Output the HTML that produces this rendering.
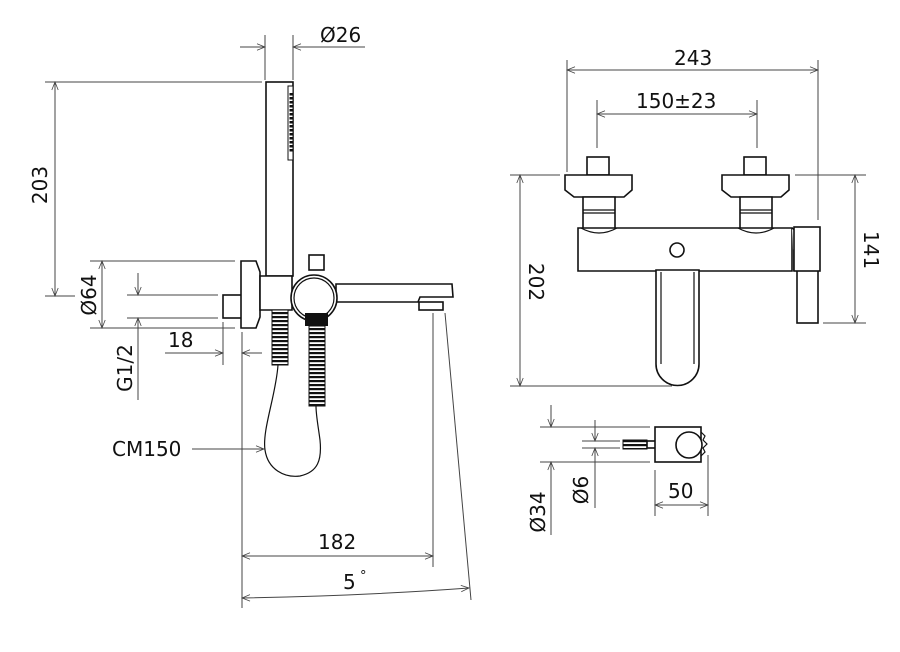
<!DOCTYPE html>
<html><head><meta charset="utf-8"><style>
html,body{margin:0;padding:0;background:#fff}
svg{display:block}
text{font-family:"DejaVu Sans","Liberation Sans",sans-serif;font-size:20px;fill:#111}
.d{stroke:#444;stroke-width:1;fill:none}
.o{stroke:#111;stroke-width:1.6;fill:#fff}
.l{stroke:#111;stroke-width:1.2;fill:none}
</style></head><body>
<svg width="900" height="652" viewBox="0 0 900 652" xmlns="http://www.w3.org/2000/svg">
<defs>
<marker id="a" viewBox="0 0 10 10" refX="10" refY="5" markerWidth="10" markerHeight="8" orient="auto-start-reverse" markerUnits="userSpaceOnUse"><path d="M0,1 L10,5 L0,9" fill="none" stroke="#444" stroke-width="1"/></marker>
<pattern id="h" width="4" height="4" patternUnits="userSpaceOnUse"><rect width="4" height="4" fill="#fff"/><rect width="4" height="2.2" fill="#111"/></pattern>
</defs>

<!-- LEFT VIEW dimensions -->
<line class="d" x1="265" y1="35" x2="265" y2="80"/><line class="d" x1="293" y1="35" x2="293" y2="80"/>
<line class="d" x1="240" y1="47" x2="265" y2="47" marker-end="url(#a)"/><line class="d" x1="318" y1="47" x2="293" y2="47" marker-end="url(#a)"/>
<line class="d" x1="293" y1="47" x2="365" y2="47"/>
<text x="320" y="42">Ø26</text>

<line class="d" x1="45" y1="82" x2="262" y2="82"/>
<line class="d" x1="45" y1="296" x2="75" y2="296"/>
<line class="d" x1="55" y1="82" x2="55" y2="296" marker-start="url(#a)" marker-end="url(#a)"/>
<text transform="translate(47,185) rotate(-90)" text-anchor="middle">203</text>

<line class="d" x1="90" y1="261" x2="235" y2="261"/><line class="d" x1="90" y1="328" x2="235" y2="328"/>
<line class="d" x1="102" y1="261" x2="102" y2="328" marker-start="url(#a)" marker-end="url(#a)"/>
<text transform="translate(96,295) rotate(-90)" text-anchor="middle">Ø64</text>

<line class="d" x1="127" y1="295" x2="218" y2="295"/><line class="d" x1="127" y1="318" x2="218" y2="318"/>
<line class="d" x1="138" y1="273" x2="138" y2="295" marker-end="url(#a)"/>
<line class="d" x1="138" y1="400" x2="138" y2="318" marker-end="url(#a)"/>
<text transform="translate(132,368) rotate(-90)" text-anchor="middle">G1/2</text>

<line class="d" x1="223" y1="322" x2="223" y2="365"/>
<line class="d" x1="165" y1="353" x2="223" y2="353" marker-end="url(#a)"/>
<line class="d" x1="262" y1="353" x2="242" y2="353" marker-end="url(#a)"/>
<text x="168" y="347">18</text>

<line class="d" x1="242" y1="332" x2="242" y2="608"/>
<line class="d" x1="433" y1="313" x2="433" y2="567"/>
<line class="d" x1="242" y1="556" x2="433" y2="556" marker-start="url(#a)" marker-end="url(#a)"/>
<text x="318" y="549">182</text>
<line class="d" x1="445" y1="313" x2="471" y2="600"/>
<path class="d" d="M242,598 Q360,596 469,588" marker-start="url(#a)" marker-end="url(#a)"/>
<text x="343" y="589">5</text><text x="360" y="580" style="font-size:13px">°</text>

<text x="112" y="456">CM150</text>
<line class="d" x1="192" y1="449" x2="264" y2="449" marker-end="url(#a)"/>

<!-- LEFT VIEW product -->
<rect class="o" x="266" y="82" width="27" height="194"/>
<rect x="288" y="86" width="5" height="74" fill="#fff" stroke="#111" stroke-width="1"/>
<line x1="291" y1="93" x2="291" y2="152" stroke="#111" stroke-width="3" stroke-dasharray="2.5,1.5"/>
<rect class="o" x="223" y="295" width="19" height="23"/>
<path class="o" d="M241,261 H256 L260,272 V317 L256,328 H241 Z"/>
<path class="o" d="M260,276 H292 V310 H260 Z"/>
<rect x="272" y="310" width="16" height="55" fill="url(#h)" stroke="#111" stroke-width="1"/>
<rect class="o" x="309" y="255" width="15" height="15"/>
<path class="o" d="M336,284 H452 L453,297 H420 L418,302 H336 Z"/>
<rect class="o" x="419" y="302" width="24" height="8"/>
<circle class="o" cx="314" cy="298" r="23"/>
<circle class="l" cx="314" cy="298" r="20"/>
<rect x="305" y="313" width="23" height="13" fill="#111"/>
<rect x="309" y="326" width="16" height="80" fill="url(#h)" stroke="#111" stroke-width="1"/>
<path class="l" d="M278,365 C276,395 262,430 265,450 C268,470 285,478 300,476 C318,472 322,460 320,440 C318,425 316,415 316,406"/>

<!-- RIGHT VIEW dimensions -->
<line class="d" x1="567" y1="60" x2="567" y2="172"/><line class="d" x1="818" y1="60" x2="818" y2="220"/>
<line class="d" x1="567" y1="70" x2="818" y2="70" marker-start="url(#a)" marker-end="url(#a)"/>
<text x="674" y="65">243</text>
<line class="d" x1="597" y1="100" x2="597" y2="148"/><line class="d" x1="757" y1="100" x2="757" y2="148"/>
<line class="d" x1="597" y1="114" x2="757" y2="114" marker-start="url(#a)" marker-end="url(#a)"/>
<text x="636" y="108">150±23</text>

<line class="d" x1="510" y1="175" x2="560" y2="175"/><line class="d" x1="510" y1="386" x2="672" y2="386"/>
<line class="d" x1="520" y1="175" x2="520" y2="386" marker-start="url(#a)" marker-end="url(#a)"/>
<text transform="translate(529,282) rotate(90)" text-anchor="middle">202</text>
<line class="d" x1="795" y1="175" x2="866" y2="175"/><line class="d" x1="823" y1="323" x2="866" y2="323"/>
<line class="d" x1="855" y1="175" x2="855" y2="323" marker-start="url(#a)" marker-end="url(#a)"/>
<text transform="translate(864,250) rotate(90)" text-anchor="middle">141</text>

<!-- RIGHT VIEW product -->
<g id="hd">
<rect class="o" x="587" y="157" width="22" height="18"/>
<path class="o" d="M565,175 H632 V190 L624,197 H574 L565,190 Z"/>
<path class="o" d="M583,197 H615 V230 H583 Z"/>
<line class="l" x1="583" y1="210" x2="615" y2="210"/><line class="l" x1="583" y1="213" x2="615" y2="213"/>
</g>
<use href="#hd" x="157"/>
<path class="o" d="M578,228 H792 V271 H578 Z"/>
<path class="l" d="M581,228 Q599,238 617,228"/><path class="l" d="M738,228 Q756,238 774,228"/>
<circle class="o" cx="677" cy="250" r="7"/>
<path class="o" d="M656,270 V364 A21.5,21.5 0 0 0 699,364 V270 Z"/>
<line class="l" x1="661" y1="272" x2="661" y2="364"/><line class="l" x1="694" y1="272" x2="694" y2="364"/>
<path class="o" d="M792,228 L800,234 L794,250 V271"/>
<rect class="o" x="797" y="270" width="21" height="53"/>
<rect class="o" x="794" y="227" width="26" height="44"/>

<!-- SMALL VIEW -->
<line class="d" x1="540" y1="427" x2="650" y2="427"/><line class="d" x1="540" y1="462" x2="650" y2="462"/>
<line class="d" x1="551" y1="405" x2="551" y2="427" marker-end="url(#a)"/>
<line class="d" x1="551" y1="535" x2="551" y2="462" marker-end="url(#a)"/>
<text transform="translate(545,512) rotate(-90)" text-anchor="middle">Ø34</text>
<line class="d" x1="582" y1="441" x2="620" y2="441"/><line class="d" x1="582" y1="448" x2="620" y2="448"/>
<line class="d" x1="595" y1="420" x2="595" y2="441" marker-end="url(#a)"/>
<line class="d" x1="595" y1="508" x2="595" y2="448" marker-end="url(#a)"/>
<text transform="translate(588,490) rotate(-90)" text-anchor="middle">Ø6</text>
<rect x="623" y="440" width="24" height="9" fill="url(#h)" stroke="#111" stroke-width="1"/>
<rect class="o" x="647" y="441" width="9" height="7"/>
<rect class="o" x="655" y="427" width="46" height="35"/>
<path class="l" d="M701,432 L705,436 L703,440 L707,444 L703,448 L705,452 L701,456"/>
<circle class="o" cx="689" cy="445" r="13"/>
<line class="d" x1="655" y1="470" x2="655" y2="516"/><line class="d" x1="708" y1="455" x2="708" y2="516"/>
<line class="d" x1="655" y1="505" x2="708" y2="505" marker-start="url(#a)" marker-end="url(#a)"/>
<text x="668" y="498">50</text>
</svg>
</body></html>
